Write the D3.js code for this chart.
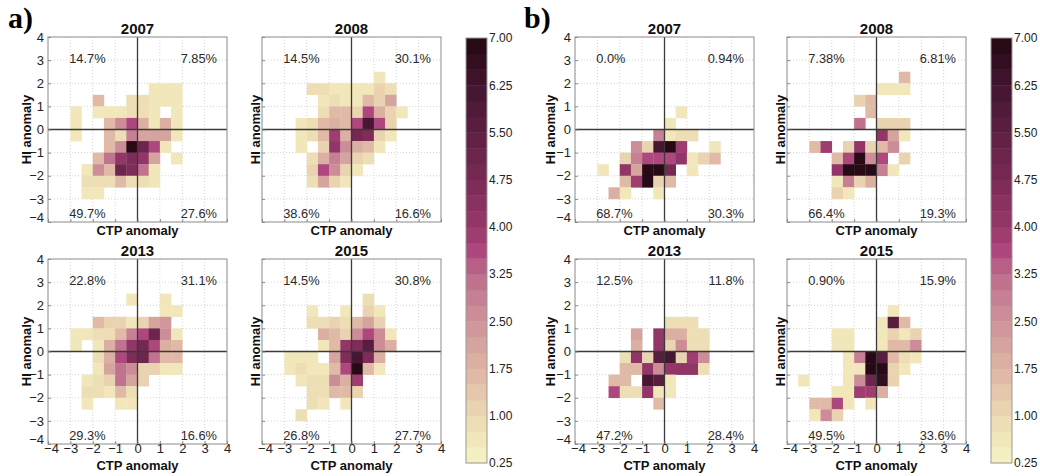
<!DOCTYPE html>
<html>
<head>
<meta charset="utf-8">
<script src="https://cdn.jsdelivr.net/npm/d3@7"></script>
<style>
body { margin: 0; background: #fff; }
</style>
</head>
<body>
<svg id="chart" width="1040" height="476" font-family="'Liberation Sans', Arial, sans-serif"></svg>
<script>
// ---- data ----
var years = ["2007", "2008", "2013", "2015"];
var axisTicks = [-4, -3, -2, -1, 0, 1, 2, 3, 4];
var cbTicks = [0.25, 1.00, 1.75, 2.50, 3.25, 4.00, 4.75, 5.50, 6.25, 7.00];

// quadrant percentages: [upper left, upper right, lower left, lower right]
var pctA = [["14.7%", "7.85%", "49.7%", "27.6%"],
            ["14.5%", "30.1%", "38.6%", "16.6%"],
            ["22.8%", "31.1%", "29.3%", "16.6%"],
            ["14.5%", "30.8%", "26.8%", "27.7%"]];
var pctB = [["0.0%", "0.94%", "68.7%", "30.3%"],
            ["7.38%", "6.81%", "66.4%", "19.3%"],
            ["12.5%", "11.8%", "47.2%", "28.4%"],
            ["0.90%", "15.9%", "49.5%", "33.6%"]];

// bins: [CTP bin start, HI bin start, frequency] (bin size 0.5)
var a2007 = [[0.5,1.5,0.5],[1,1.5,0.5],[1.5,1.5,0.5],
  [-2,1,1.5],[-0.5,1,0.8],[0,1,0.8],[0.5,1,0.5],[1,1,0.5],[1.5,1,0.5],
  [-3,0.5,0.5],[-2,0.5,0.6],[-1.5,0.5,0.6],[-1,0.5,0.6],[-0.5,0.5,0.9],[0,0.5,0.9],[0.5,0.5,0.6],[1.5,0.5,0.5],
  [-3,0,0.5],[-1.5,0,1.5],[-1,0,2.5],[-0.5,0,3.5],[0,0,1.8],[0.5,0,0.6],[1,0,1.8],[1.5,0,0.5],
  [-3,-0.5,0.5],[-1.5,-0.5,1.5],[-1,-0.5,0.9],[-0.5,-0.5,2.8],[0,-0.5,2.2],[0.5,-0.5,2.0],[1,-0.5,2.0],[1.5,-0.5,0.5],
  [-1.5,-1,1.5],[-1,-1,2.5],[-0.5,-1,7],[0,-1,5],[0.5,-1,3.5],[1,-1,0.5],
  [-2,-1.5,1.5],[-1.5,-1.5,3.0],[-1,-1.5,4.0],[-0.5,-1.5,4.5],[0,-1.5,4.0],[0.5,-1.5,2.2],[1.5,-1.5,0.5],
  [-2.5,-2,0.5],[-2,-2,2.5],[-1.5,-2,1.5],[-1,-2,5],[-0.5,-2,4.5],[0,-2,3],[0.5,-2,0.6],
  [-2.5,-2.5,0.8],[-2,-2.5,0.9],[-1.5,-2.5,0.9],[-1,-2.5,1.5],[-0.5,-2.5,0.9],[0,-2.5,0.9],[0.5,-2.5,0.5],
  [-2.5,-3,0.5],[-2,-3,0.5]];

var a2008 = [[1,2,0.6],
  [-2,1.5,0.8],[-1.5,1.5,0.8],[-1,1.5,0.7],[-0.5,1.5,0.6],[0,1.5,0.6],[0.5,1.5,0.6],[1,1.5,1.0],[1.5,1.5,0.9],
  [-1.5,1,0.6],[-1,1,0.9],[-0.5,1,0.6],[0,1,0.5],[0.5,1,1.5],[1,1,1.0],[1.5,1,2.0],
  [-1.5,0.5,0.9],[-1,0.5,1.5],[-0.5,0.5,1.5],[0,0.5,1.0],[0.5,0.5,3.5],[1,0.5,1.8],[1.5,0.5,1.0],[2,0.5,0.5],
  [-2.5,0,0.6],[-2,0,0.9],[-1.5,0,1.5],[-1,0,1.8],[-0.5,0,1.5],[0,0,3.5],[0.5,0,6.0],[1,0,3.5],[1.5,0,1.0],
  [-2.5,-0.5,0.6],[-2,-0.5,0.9],[-1.5,-0.5,1.5],[-1,-0.5,3.8],[-0.5,-0.5,1.8],[0,-0.5,4.8],[0.5,-0.5,4.5],[1,-0.5,1.0],[1.5,-0.5,0.5],
  [-2.5,-1,0.6],[-1.5,-1,1.0],[-1,-1,4.2],[-0.5,-1,2.5],[0,-1,1.8],[0.5,-1,1.5],[1,-1,0.6],
  [-2,-1.5,0.9],[-1.5,-1.5,1.8],[-1,-1.5,2.8],[-0.5,-1.5,2.0],[0,-1.5,1.0],[0.5,-1.5,0.8],
  [-2,-2,1.2],[-1.5,-2,3.5],[-1,-2,2.5],[-0.5,-2,1.0],[0,-2,0.7],
  [-2,-2.5,0.8],[-1.5,-2.5,2.0],[-1,-2.5,1.0],[-0.5,-2.5,0.6]];

var a2013 = [[-0.5,2,0.5],[1,2,0.5],
  [1,1.5,0.5],[1.5,1.5,0.5],
  [-2,1,1.5],[-1.5,1,1.0],[-1,1,1.0],[-0.5,1,0.6],[0,1,1.2],[0.5,1,2.0],[1,1,2.3],
  [-3,0.5,0.6],[-2.5,0.5,0.6],[-2,0.5,0.9],[-1.5,0.5,0.9],[-1,0.5,1.5],[-0.5,0.5,2.8],[0,0.5,3.5],[0.5,0.5,5.0],[1,0.5,2.5],[1.5,0.5,0.6],
  [-3,0,0.5],[-2,0,0.6],[-1.5,0,1.8],[-1,0,3.2],[-0.5,0,4.2],[0,0,4.8],[0.5,0,3.5],[1,0,1.8],[1.5,0,1.5],
  [-2,-0.5,0.8],[-1.5,-0.5,1.8],[-1,-0.5,3.5],[-0.5,-0.5,4.5],[0,-0.5,5.0],[0.5,-0.5,3.2],[1,-0.5,1.5],[1.5,-0.5,1.5],
  [-2,-1,0.6],[-1.5,-1,2.0],[-1,-1,3.2],[-0.5,-1,2.5],[0,-1,1.0],[0.5,-1,1.0],[1,-1,0.6],[1.5,-1,0.5],
  [-2.5,-1.5,0.6],[-2,-1.5,0.9],[-1.5,-1.5,1.0],[-1,-1.5,3.2],[-0.5,-1.5,2.0],[0,-1.5,1.0],
  [-2.5,-2,0.9],[-2,-2,0.9],[-1.5,-2,0.6],[-1,-2,1.5],[-0.5,-2,0.9],
  [-2.5,-2.5,0.6],[-1,-2.5,0.7],[-0.5,-2.5,0.7]];

var a2015 = [[0.5,2,0.8],
  [-2,1.5,0.6],[-0.5,1.5,0.6],[0.5,1.5,1.0],[1,1.5,0.6],
  [-2,1,0.9],[-1.5,1,0.9],[-1,1,1.0],[-0.5,1,0.9],[0,1,1.5],[0.5,1,2.2],[1,1,1.0],
  [-1.5,0.5,1.8],[-1,0.5,1.5],[-0.5,0.5,1.0],[0,0.5,2.5],[0.5,0.5,3.5],[1,0.5,2.5],[1.5,0.5,0.6],
  [-1.5,0,0.6],[-1,0,1.5],[-0.5,0,4.2],[0,0,4.5],[0.5,0,5.5],[1,0,2.5],[1.5,0,1.8],
  [-3,-0.5,0.6],[-2.5,-0.5,0.6],[-2,-0.5,0.6],[-1,-0.5,2.0],[-0.5,-0.5,4.5],[0,-0.5,6.0],[0.5,-0.5,4.5],[1,-0.5,1.8],
  [-3,-1,0.6],[-2.5,-1,0.8],[-2,-1,0.6],[-1.5,-1,0.6],[-1,-1,1.5],[-0.5,-1,3.5],[0,-1,7.0],[0.5,-1,1.5],[1,-1,0.6],
  [-2.5,-1.5,0.6],[-2,-1.5,0.8],[-1.5,-1.5,0.8],[-1,-1.5,2.5],[-0.5,-1.5,1.8],[0,-1.5,3.8],
  [-2,-2,0.8],[-1.5,-2,0.9],[-1,-2,1.5],[-0.5,-2,1.5],[0,-2,1.0],
  [-2,-2.5,0.8],[-1.5,-2.5,0.6],[-0.5,-2.5,0.6],
  [-2.5,-3,0.9]];

var b2007 = [[0.5,0.5,0.5],
  [0,0,0.5],
  [-0.5,-0.5,2.8],[0,-0.5,0.5],[0.5,-0.5,0.9],[1,-0.5,0.9],
  [-1.5,-1,2.5],[-1,-1,1.0],[-0.5,-1,6.0],[0,-1,7.0],[0.5,-1,3.8],[2,-1,0.5],
  [-2,-1.5,1.0],[-1.5,-1.5,2.8],[-1,-1.5,3.5],[-0.5,-1.5,3.5],[0,-1.5,3.5],[0.5,-1.5,4.2],[1,-1.5,0.5],[1.5,-1.5,1.0],[2,-1.5,1.5],
  [-3,-2,0.5],[-2,-2,4.2],[-1.5,-2,2.0],[-1,-2,7.0],[-0.5,-2,7.0],[0,-2,4.8],[1,-2,0.5],
  [-2,-2.5,1.5],[-1.5,-2.5,3.8],[-1,-2.5,7.0],[-0.5,-2.5,1.0],[0,-2.5,1.5],
  [-2.5,-3,1.8],[-2,-3,0.5],[-0.5,-3,0.5]];

var b2008 = [[1,2,1.5],
  [0,1.5,0.7],[0.5,1.5,0.7],[1,1.5,0.7],
  [-1,1,1.0],[-0.5,1,1.5],
  [-0.5,0.5,1.5],
  [-1,0,3.2],[0,0,1.0],[0.5,0,1.0],[1,0,1.0],
  [0,-0.5,4.0],[0.5,-0.5,2.2],[1,-0.5,0.6],
  [-3,-1,1.5],[-2.5,-1,3.8],[-1.5,-1,1.0],[-1,-1,4.2],[-0.5,-1,1.0],[0,-1,1.5],[0.5,-1,2.5],
  [-2,-1.5,1.5],[-1.5,-1.5,3.5],[-1,-1.5,7.0],[-0.5,-1.5,2.5],[0,-1.5,3.5],[1,-1.5,1.0],
  [-2,-2,4.2],[-1.5,-2,7.0],[-1,-2,7.0],[-0.5,-2,7.0],[0,-2,2.8],[0.5,-2,0.6],
  [-2,-2.5,0.6],[-1.5,-2.5,2.8],[-1,-2.5,1.0],[-0.5,-2.5,1.8],
  [-2,-3,1.0],[-1.5,-3,0.6]];

var b2013 = [[0,1,0.9],[0.5,1,0.9],[1,1,0.9],
  [-1.5,0.5,2.0],[-0.5,0.5,4.2],[0,0.5,1.8],[0.5,0.5,1.8],[1,0.5,0.9],[1.5,0.5,0.9],
  [-1.5,0,1.8],[-0.5,0,4.0],[0,0,1.0],[0.5,0,2.5],[1,0,0.9],[1.5,0,0.9],
  [-2,-0.5,0.9],[-1.5,-0.5,4.2],[-1,-0.5,1.2],[-0.5,-0.5,5.5],[0,-0.5,6.0],[0.5,-0.5,1.2],[1,-0.5,3.8],[1.5,-0.5,2.5],
  [-2,-1,1.5],[-1.5,-1,1.5],[-1,-1,4.2],[-0.5,-1,2.5],[0,-1,4.2],[0.5,-1,4.2],[1,-1,4.2],[1.5,-1,0.9],
  [-2.5,-1.5,1.5],[-2,-1.5,1.5],[-1,-1.5,6.0],[-0.5,-1.5,5.5],[0,-1.5,0.6],
  [-2.5,-2,3.5],[-2,-2,0.8],[-1.5,-2,0.8],[-1,-2,4.2],[-0.5,-2,0.6],[0,-2,0.6],
  [-0.5,-2.5,1.5]];

var b2015 = [[0.5,1.5,0.6],
  [0,1,0.6],[0.5,1,5.5],[1,1,1.5],
  [-2,0.5,0.6],[-1.5,0.5,0.6],[0,0.5,0.6],[0.5,0.5,1.0],[1,0.5,0.6],[1.5,0.5,1.0],
  [-2,0,0.6],[-1.5,0,0.6],[0,0,0.6],[0.5,0,1.5],[1,0,1.5],[1.5,0,2.5],
  [-1.5,-0.5,0.6],[-1,-0.5,2.8],[-0.5,-0.5,7.0],[0,-0.5,5.5],[0.5,-0.5,1.5],[1,-0.5,0.9],[1.5,-0.5,0.6],
  [-1.5,-1,0.6],[-1,-1,0.6],[-0.5,-1,7.0],[0,-1,7.0],[0.5,-1,1.0],[1,-1,0.6],
  [-3.5,-1.5,0.6],[-1.5,-1.5,0.6],[-1,-1.5,2.5],[-0.5,-1.5,5.0],[0,-1.5,6.5],[0.5,-1.5,1.0],
  [-2,-2,0.6],[-1.5,-2,0.6],[-1,-2,3.8],[-0.5,-2,3.8],[0,-2,1.8],
  [-3,-2.5,1.5],[-2.5,-2.5,1.5],[-2,-2.5,3.5],[-1.5,-2.5,0.6],[-0.5,-2.5,0.6],
  [-3,-3,0.6],[-2.5,-3,2.5],[-2,-3,1.0]];

var cellsA = [a2007, a2008, a2013, a2015];
var cellsB = [b2007, b2008, b2013, b2015];

// ---- layout ----
var svg = d3.select("#chart");
var W = 179, H = 185;
var rowTop = [37, 259];

// colour map (discrete 0.25 steps)
var cStops = [0.25, 0.75, 1.25, 1.75, 2.25, 2.75, 3.25, 3.6, 4.0, 4.75, 5.5, 6.25, 7.0];
var cCols = ["#f7f4c4", "#efe3b8", "#e7cdae", "#ddb4a4", "#d39e9d", "#c98796", "#bd6b8c",
             "#b0487e", "#97386a", "#7a2a55", "#5d1f42", "#42142f", "#220810"];
var cLin = d3.scaleLinear().domain(cStops).range(cCols).clamp(true);
function colorOf(v) {
  var k = Math.max(0, Math.min(26, Math.floor((v - 0.25) / 0.25)));
  return cLin(0.25 + (k + 0.5) * 0.25);
}
function minus(d) { return d < 0 ? "\u2212" + (-d) : d; }

function drawPanel(left, top, year, cells, pct, showY, showX, ylabOff) {
  var x = d3.scaleLinear().domain([-4, 4]).range([left, left + W]);
  var y = d3.scaleLinear().domain([-4, 4]).range([top + H, top]);
  var g = svg.append("g");

  // grid
  g.selectAll(".gx").data(axisTicks.slice(1, -1)).enter().append("line")
    .attr("x1", d => x(d)).attr("x2", d => x(d)).attr("y1", top).attr("y2", top + H)
    .attr("stroke", "#c8c8c8").attr("stroke-width", 0.8).attr("stroke-dasharray", "1,2");
  g.selectAll(".gy").data(axisTicks.slice(1, -1)).enter().append("line")
    .attr("y1", d => y(d)).attr("y2", d => y(d)).attr("x1", left).attr("x2", left + W)
    .attr("stroke", "#c8c8c8").attr("stroke-width", 0.8).attr("stroke-dasharray", "1,2");

  // cells
  g.selectAll("rect.cell").data(cells).enter().append("rect")
    .attr("x", d => x(d[0]))
    .attr("y", d => y(d[1] + 0.5))
    .attr("width", x(0.5) - x(0) + 0.3)
    .attr("height", y(0) - y(0.5) + 0.3)
    .attr("fill", d => colorOf(d[2]));

  // zero lines
  g.append("line").attr("x1", x(0)).attr("x2", x(0)).attr("y1", top).attr("y2", top + H)
    .attr("stroke", "#3a3a3a").attr("stroke-width", 1.3);
  g.append("line").attr("y1", y(0)).attr("y2", y(0)).attr("x1", left).attr("x2", left + W)
    .attr("stroke", "#3a3a3a").attr("stroke-width", 1.3);

  // frame + ticks
  g.append("rect").attr("x", left).attr("y", top).attr("width", W).attr("height", H)
    .attr("fill", "none").attr("stroke", "#8a8a8a").attr("stroke-width", 1);
  var yAx = d3.axisLeft(y).tickValues(axisTicks).tickSize(-3).tickPadding(4)
    .tickFormat(showY ? minus : "");
  var ya = g.append("g").attr("transform", "translate(" + left + ",0)").call(yAx);
  var xAx = d3.axisBottom(x).tickValues(axisTicks).tickSize(-3).tickPadding(0)
    .tickFormat(showX ? minus : "");
  var xa = g.append("g").attr("transform", "translate(0," + (top + H) + ")").call(xAx);
  [ya, xa].forEach(function (a) {
    a.select(".domain").remove();
    a.selectAll(".tick line").attr("stroke", "#8a8a8a");
    a.selectAll("text").attr("fill", "#222").attr("font-size", 13)
      .attr("font-family", "'Liberation Sans', Arial, sans-serif");
  });
  // lift the bottom y label so it clears the x labels at the corner
  ya.selectAll(".tick text").filter(d => d === -4).attr("y", -5);
  xa.selectAll(".tick text").filter(d => d === -4).attr("x", 3);

  // title
  g.append("text").attr("x", x(0)).attr("y", top - 3).attr("text-anchor", "middle")
    .attr("font-size", 15).attr("font-weight", "bold").attr("fill", "#111").text(year);

  // axis labels
  g.append("text").attr("x", x(0)).attr("y", top + H + (showX ? 26 : 13))
    .attr("text-anchor", "middle").attr("font-size", 13).attr("font-weight", "bold")
    .attr("fill", "#111").text("CTP anomaly");
  g.append("text").attr("transform", "translate(" + (left - ylabOff) + "," + y(0) + ") rotate(-90)")
    .attr("text-anchor", "middle").attr("font-size", 13).attr("font-weight", "bold")
    .attr("fill", "#111").text("HI anomaly");

  // quadrant percentages
  var pos = [[-3.05, 2.88, "start"], [3.55, 2.88, "end"], [-3.05, -3.83, "start"], [3.55, -3.83, "end"]];
  pos.forEach(function (p, i) {
    g.append("text").attr("x", x(p[0])).attr("y", y(p[1])).attr("text-anchor", p[2])
      .attr("font-size", 12.8).attr("fill", "#2a2a2a").text(pct[i]);
  });
}

function drawColorbar(left) {
  var top = 38, bot = 463, cw = 21;
  var s = d3.scaleLinear().domain([0.25, 7]).range([bot, top]);
  var bands = d3.range(27).map(k => 0.25 + k * 0.25);
  svg.append("g").selectAll("rect").data(bands).enter().append("rect")
    .attr("x", left).attr("y", d => s(d + 0.25)).attr("width", cw)
    .attr("height", s(0) - s(0.25) + 0.4)
    .attr("fill", d => colorOf(d + 0.1));
  svg.append("rect").attr("x", left).attr("y", top).attr("width", cw).attr("height", bot - top)
    .attr("fill", "none").attr("stroke", "#999").attr("stroke-width", 1);
  var ax = d3.axisRight(s).tickValues(cbTicks).tickSize(0).tickPadding(2)
    .tickFormat(d3.format(".2f"));
  var a = svg.append("g").attr("transform", "translate(" + (left + cw) + ",0)").call(ax);
  a.select(".domain").remove();
  a.selectAll("text").attr("font-size", 12).attr("fill", "#222")
    .attr("font-family", "'Liberation Sans', Arial, sans-serif");
}

// panel groups a) and b)
var colA = [48, 262], colB = [575, 787];
years.forEach(function (yr, i) {
  var c = i % 2, r = Math.floor(i / 2);
  drawPanel(colA[c], rowTop[r], yr, cellsA[i], pctA[i], c === 0, r === 1, c === 0 ? 17 : 2);
  drawPanel(colB[c], rowTop[r], yr, cellsB[i], pctB[i], c === 0, r === 1, c === 0 ? 20 : 2);
});
drawColorbar(466);
drawColorbar(991);

svg.append("text").attr("x", 8).attr("y", 28)
  .attr("font-family", "'Liberation Serif', 'Times New Roman', serif")
  .attr("font-size", 30).attr("font-weight", "bold").text("a)");
svg.append("text").attr("x", 524).attr("y", 28)
  .attr("font-family", "'Liberation Serif', 'Times New Roman', serif")
  .attr("font-size", 30).attr("font-weight", "bold").text("b)");
</script>
</body>
</html>
